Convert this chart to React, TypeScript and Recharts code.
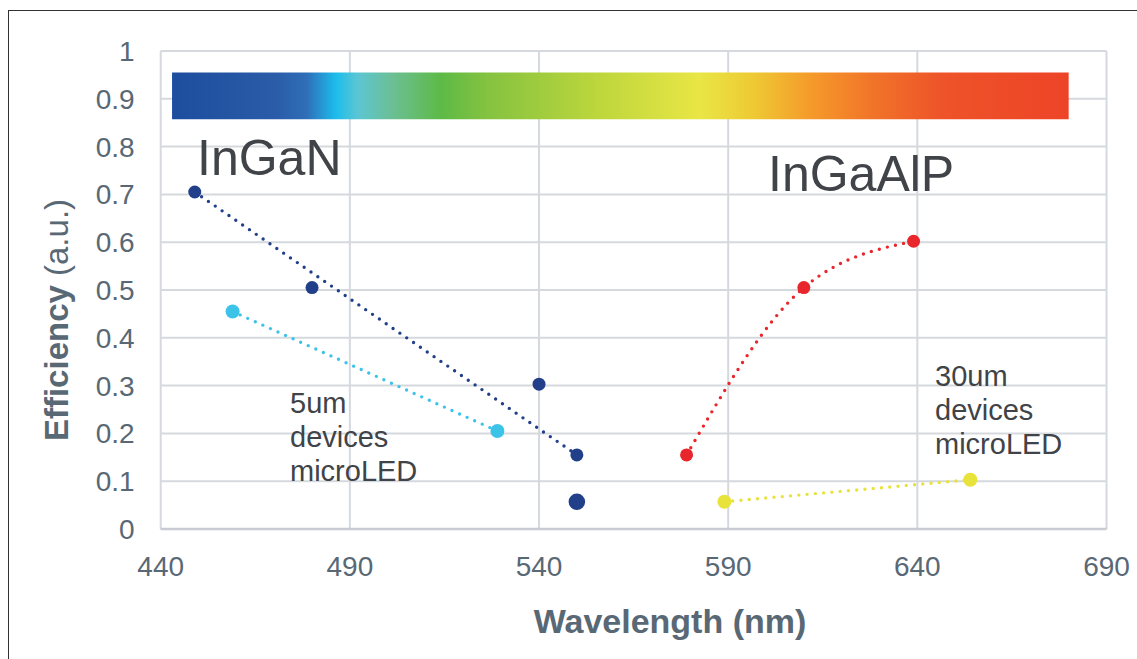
import { ComposedChart, XAxis, YAxis, CartesianGrid, Line, Scatter, ReferenceArea } from 'recharts'

const xTicks = [440, 490, 540, 590, 640, 690]
const yTicks = [0, 0.1, 0.2, 0.3, 0.4, 0.5, 0.6, 0.7, 0.8, 0.9, 1]

// InGaN measured points (dark blue)
const inganPoints = [
   { wl: 449, eff: 0.705 },
   { wl: 480, eff: 0.505 },
   { wl: 540, eff: 0.303 },
   { wl: 550, eff: 0.155 },
]
// dotted guide between first and last InGaN point
const inganTrend = [
   { wl: 449, eff: 0.705 },
   { wl: 550, eff: 0.155 },
]
const inganBig = [{ wl: 550, eff: 0.057 }]
const ingan5um = [
   { wl: 459, eff: 0.455 },
   { wl: 529, eff: 0.205 },
]
const ingaalp = [
   { wl: 579, eff: 0.155 },
   { wl: 610, eff: 0.505 },
   { wl: 639, eff: 0.602 },
]
const ingaalp30um = [
   { wl: 589, eff: 0.057 },
   { wl: 654, eff: 0.103 },
]

const spectrumBand = { from: 443, to: 680, low: 0.857, high: 0.955 }
const spectrumStops: [number, string][] = [
   [0, '#1d4d9e'],
   [0.116, '#2a5ca8'],
   [0.15, '#2f6eb8'],
   [0.183, '#1dbdec'],
   [0.207, '#5bc6d3'],
   [0.245, '#6cbf95'],
   [0.3, '#5dba46'],
   [0.35, '#84c240'],
   [0.473, '#bcd63c'],
   [0.588, '#e9e645'],
   [0.649, '#eec933'],
   [0.713, '#f59a2a'],
   [0.783, '#f17329'],
   [0.859, '#ee5329'],
   [1, '#ed4428'],
]

const FONT = '"Liberation Sans", Arial, sans-serif'
const AXIS_TEXT = '#596875'
const NOTE_TEXT = '#404347'
const DOTTED = { strokeWidth: 3.4, strokeDasharray: '0 8.3', strokeLinecap: 'round' as const }

const dot = (fill: string, r: number) => (p: any) => <circle cx={p.cx} cy={p.cy} r={r} fill={fill} />

export default function App() {
   return (
      <div style={{ position: 'fixed', left: 0, top: 0, width: 1137, height: 659, background: '#fff', fontFamily: FONT }}>
         <div style={{ position: 'absolute', left: 8, top: 9.5, right: 0, bottom: 0, borderTop: '1.5px solid #333', borderLeft: '1.5px solid #333' }} />
         <div style={{ position: 'absolute', left: 0, top: 0 }}>
            <ComposedChart width={1137} height={659} margin={{ top: 51, right: 30.5, left: 0, bottom: 0 }}>
               <defs>
                  <linearGradient id='spectrum' x1='0' y1='0' x2='1' y2='0'>
                     {spectrumStops.map(([o, c]) => <stop key={o} offset={o} stopColor={c} />)}
                  </linearGradient>
               </defs>
               <CartesianGrid stroke='#d5d9de' strokeWidth={2} />
               <XAxis
                  dataKey='wl'
                  type='number'
                  domain={[440, 690]}
                  ticks={xTicks}
                  interval={0}
                  height={130}
                  tickSize={0}
                  tickMargin={27}
                  tick={{ fontSize: 28, fill: AXIS_TEXT, fontFamily: FONT }}
                  axisLine={{ stroke: '#c8ccd2', strokeWidth: 2.5 }}
               />
               <YAxis
                  dataKey='eff'
                  type='number'
                  domain={[0, 1]}
                  ticks={yTicks}
                  interval={0}
                  width={160.7}
                  tickSize={0}
                  tickMargin={26}
                  tick={{ fontSize: 28, fill: AXIS_TEXT, fontFamily: FONT }}
                  axisLine={false}
               />
               <ReferenceArea
                  x1={spectrumBand.from}
                  x2={spectrumBand.to}
                  y1={spectrumBand.low}
                  y2={spectrumBand.high}
                  fill='url(#spectrum)'
                  fillOpacity={1}
                  stroke='none'
               />
               <Line data={inganTrend} dataKey='eff' stroke='#22408a' {...DOTTED} dot={false} activeDot={false} isAnimationActive={false} />
               <Line data={ingan5um} dataKey='eff' stroke='#3cc3e8' {...DOTTED} dot={false} activeDot={false} isAnimationActive={false} />
               <Line data={ingaalp} type='monotone' dataKey='eff' stroke='#e8262b' {...DOTTED} dot={false} activeDot={false} isAnimationActive={false} />
               <Line data={ingaalp30um} dataKey='eff' stroke='#e8e33a' {...DOTTED} dot={false} activeDot={false} isAnimationActive={false} />
               <Scatter data={inganPoints} dataKey='eff' shape={dot('#22408a', 6.5)} isAnimationActive={false} />
               <Scatter data={inganBig} dataKey='eff' shape={dot('#22408a', 8.3)} isAnimationActive={false} />
               <Scatter data={ingan5um} dataKey='eff' shape={dot('#3cc3e8', 7)} isAnimationActive={false} />
               <Scatter data={ingaalp} dataKey='eff' shape={dot('#e8262b', 6.5)} isAnimationActive={false} />
               <Scatter data={ingaalp30um} dataKey='eff' shape={dot('#e8e33a', 7)} isAnimationActive={false} />
            </ComposedChart>
         </div>
         <svg width={1137} height={659} style={{ position: 'absolute', left: 0, top: 0, pointerEvents: 'none' }} fontFamily={FONT}>
            <text x={197} y={175} fontSize={50} fill={NOTE_TEXT}>InGaN</text>
            <text x={768} y={191} fontSize={50} fill={NOTE_TEXT}>InGaAlP</text>
            <text x={290} fontSize={29} fill={NOTE_TEXT}>
               <tspan x={290} y={413}>5um</tspan>
               <tspan x={290} y={447}>devices</tspan>
               <tspan x={290} y={481}>microLED</tspan>
            </text>
            <text x={935} fontSize={29} fill={NOTE_TEXT}>
               <tspan x={935} y={386}>30um</tspan>
               <tspan x={935} y={420}>devices</tspan>
               <tspan x={935} y={454}>microLED</tspan>
            </text>
            <text x={670} y={633} fontSize={34} fontWeight='bold' fill={AXIS_TEXT} textAnchor='middle'>Wavelength (nm)</text>
            <text transform='translate(68, 320) rotate(-90)' fontSize={33} fontWeight='bold' fill={AXIS_TEXT} textAnchor='middle'>
               Efficiency <tspan fontWeight='normal'>(a.u.)</tspan>
            </text>
         </svg>
      </div>
   )
}
